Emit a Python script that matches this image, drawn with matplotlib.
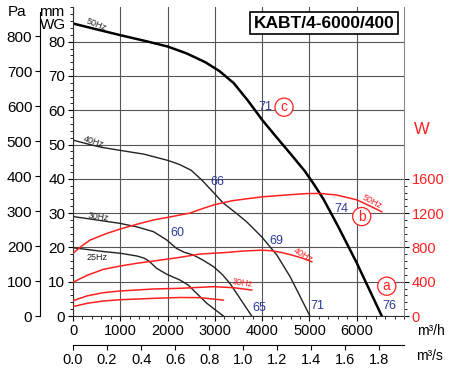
import matplotlib
matplotlib.use("Agg")
import matplotlib.pyplot as plt
from matplotlib.ticker import FixedLocator, MultipleLocator
import numpy as np

plt.rcParams['font.family'] = ['Liberation Sans', 'DejaVu Sans']

# pressure curves, airflow in m3/h, pressure in mm WG
q_50 = [0, 500, 1000, 1500, 2000, 2400, 2800, 3100, 3400, 3700, 4000, 4300, 4600, 4900,
        5100, 5300, 5600, 6000, 6530]
p_50 = [85.3, 83.6, 81.9, 80.3, 78.6, 76.6, 74.0, 71.4, 67.9, 62.8, 57.2, 52.2, 47.3, 42.3,
        38.3, 34.0, 26.3, 15.5, 0]
q_40 = [0, 300, 600, 1000, 1500, 2000, 2250, 2500, 2720, 3000, 3180, 3450, 3670, 3990,
        4310, 4590, 4770, 5010]
p_40 = [51.3, 50.2, 49.2, 48.3, 47.2, 45.4, 44.2, 42.5, 39.7, 35.6, 32.9, 30.0, 27.5, 23.1,
        17.8, 11.5, 6.6, 0]
q_30 = [0, 360, 700, 1000, 1350, 1700, 1980, 2190, 2350, 2540, 2750, 2970, 3150, 3320,
        3460, 3600, 3780]
p_30 = [29.0, 28.3, 27.6, 27.0, 26.0, 24.6, 22.2, 19.7, 18.6, 17.8, 16.3, 14.4, 12.2, 9.5,
        6.6, 3.7, 0]
q_25 = [0, 300, 640, 1000, 1350, 1500, 1600, 1770, 1980, 2260, 2440, 2540, 2690, 2830,
        3000, 3180]
p_25 = [19.9, 19.4, 18.8, 18.3, 17.5, 16.9, 16.1, 13.9, 12.2, 10.5, 9.0, 7.6, 5.6, 3.7,
        1.9, 0]

# power curves, W
wq_50 = [0, 180, 360, 700, 1000, 1350, 1700, 2000, 2260, 2470, 2750, 3000, 3370, 3740,
         4020, 4590, 4940, 5220, 5580, 6000, 6140, 6330, 6530]
w_50 = [731, 815, 886, 960, 1015, 1070, 1120, 1150, 1178, 1200, 1255, 1300, 1345, 1372,
        1391, 1415, 1428, 1430, 1411, 1355, 1320, 1270, 1216]
wq_40 = [0, 300, 640, 1000, 1350, 1700, 2260, 2690, 3215, 3600, 3990, 4200, 4420, 4625,
         4850, 5050]
w_40 = [393, 475, 544, 583, 615, 641, 684, 723, 740, 758, 768, 761, 740, 711, 675, 633]
wq_30 = [0, 300, 640, 1000, 1700, 2260, 2970, 3400, 3780]
w_30 = [178, 235, 272, 292, 315, 323, 342, 330, 303]
wq_25 = [0, 300, 640, 1000, 1700, 2260, 2690, 3180]
w_25 = [110, 148, 175, 190, 206, 216, 214, 185]

# labels: text, x (m3/h), y (mm WG)
freq_labels = [("50Hz", 500, 84.9, -22), ("40Hz", 430, 50.8, -18),
               ("30Hz", 535, 29.0, -8), ("25Hz", 500, 17.1, 0)]
red_freq_labels = [("50Hz", 6318, 33.3, -28), ("40Hz", 4858, 17.8, -30),
                   ("30Hz", 3589, 9.7, -8)]
db_labels = [("71", 4061, 60.9), ("66", 3046, 39.1), ("60", 2200, 24.2), ("69", 4294, 22.0),
             ("65", 3940, 2.4), ("71", 5175, 3.0), ("74", 5683, 31.1), ("76", 6680, 2.9)]
circle_labels = [("c", 4463, 60.9), ("b", 6106, 29.0), ("a", 6635, 8.7)]

RED = '#ff2020'
BLUE = '#2a3a9c'
GRID = '#555555'

fig = plt.figure(figsize=(4.5, 3.71), dpi=100)
ax = fig.add_axes([73/450, 55/371, 331/450, 308.6/371])
ax.set_xlim(0, 7000)
ax.set_ylim(0, 90)

ax.plot(q_50, p_50, color='black', lw=1.8)
ax.plot(q_40, p_40, color='#222222', lw=1.0)
ax.plot(q_30, p_30, color='#222222', lw=1.0)
ax.plot(q_25, p_25, color='#222222', lw=1.0)

ax.set_xticks(range(0, 7000, 1000))
ax.xaxis.set_minor_locator(FixedLocator(np.arange(0, 7001, 200)))
ax.set_yticks(range(0, 81, 10))
ax.yaxis.set_minor_locator(MultipleLocator(2))
ax.grid(True, which='major', color=GRID, lw=0.8)
ax.tick_params(which='major', length=3.5, width=0.8, labelsize=10.5, pad=2)
ax.tick_params(axis='y', which='major', labelsize=11)
ax.tick_params(which='minor', length=2, width=0.6)
ax.spines['top'].set_visible(False)
ax.spines['right'].set_visible(False)
ax.spines['left'].set_color('#333333')
ax.spines['bottom'].set_color('#333333')

# power axis
axw = ax.twinx()
axw.set_ylim(0, 3600)
axw.plot(wq_50, w_50, color=RED, lw=1.1)
axw.plot(wq_40, w_40, color=RED, lw=1.1)
axw.plot(wq_30, w_30, color=RED, lw=1.1)
axw.plot(wq_25, w_25, color=RED, lw=1.1)
axw.set_yticks(range(0, 1601, 400))
axw.yaxis.set_minor_locator(FixedLocator(np.arange(0, 1601, 80)))
axw.tick_params(axis='y', which='major', length=3.5, width=0.8, labelsize=10.5,
                labelcolor=RED, pad=2)
axw.tick_params(axis='y', which='minor', length=2, width=0.6)
for s in ['top', 'left', 'bottom']:
    axw.spines[s].set_visible(False)
axw.spines['right'].set_color('#888888')

# Pa axis
pa = ax.secondary_yaxis(-0.1, functions=(lambda m: m*9.81, lambda p: p/9.81))
pa.set_yticks(range(0, 801, 100))
pa.tick_params(length=3.5, width=0.8, labelsize=11, pad=2)
pa.spines['left'].set_bounds(0, 870)

# m3/s axis
qs = ax.secondary_xaxis(-0.094, functions=(lambda q: q/3600, lambda s: s*3600))
qs.set_xticks(np.arange(0, 1.81, 0.2))
qs.set_xticklabels(["%.1f" % v for v in np.arange(0, 1.81, 0.2)])
qs.tick_params(length=3.5, width=0.8, labelsize=10.5, pad=2)

for txt, x, y, r in freq_labels:
    ax.text(x, y, txt, fontsize=6.5, rotation=r, ha='center', va='center', color='#222222')
for txt, x, y, r in red_freq_labels:
    ax.text(x, y, txt, fontsize=6.5, rotation=r, ha='center', va='center', color=RED)
for txt, x, y in db_labels:
    ax.text(x, y, txt, fontsize=9, ha='center', va='center', color=BLUE)
for txt, x, y in circle_labels:
    ax.text(x, y, txt, fontsize=10, ha='center', va='center', color=RED,
            bbox=dict(boxstyle='circle,pad=0.15', fc='white', ec=RED, lw=0.9))

ax.text((324-73)/331, (316-23)/308.6, "KABT/4-6000/400", transform=ax.transAxes,
        fontsize=12.5, fontweight='bold', ha='center', va='center',
        bbox=dict(boxstyle='square,pad=0.22', fc='white', ec='black', lw=1.2))

fig.text(17/450, 1-12/371, "Pa", fontsize=11, ha='center', va='center')
fig.text(52/450, 1-12/371, "mm", fontsize=11, ha='center', va='center')
fig.text(53/450, 1-25/371, "WG", fontsize=11, ha='center', va='center')
fig.text(422/450, 1-130/371, "W", fontsize=12, ha='center', va='center', color=RED)
fig.text(431/450, 1-331/371, "m³/h", fontsize=10, ha='center', va='center')
fig.text(429/450, 1-356/371, "m³/s", fontsize=10, ha='center', va='center')

fig.savefig("out.png", dpi=100)
